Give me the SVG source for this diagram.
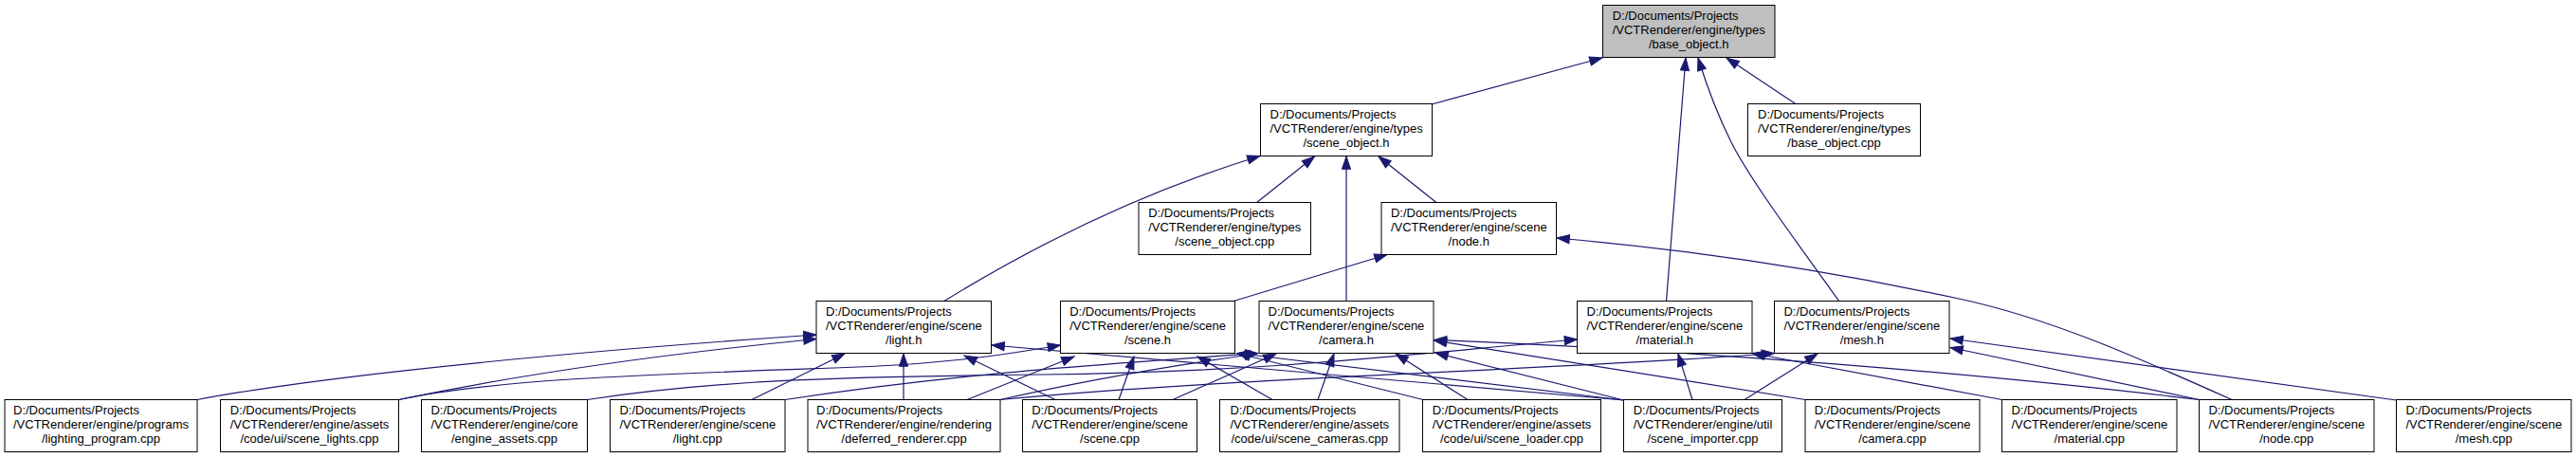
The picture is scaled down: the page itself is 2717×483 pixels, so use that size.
<svg xmlns="http://www.w3.org/2000/svg" width="2717" height="483" viewBox="0 0 2717 483">
<style>
.n rect{fill:#ffffff;stroke:#000000;stroke-width:1}
.n.root rect{fill:#bfbfbf}
.n text{font-family:"Liberation Sans",Arial,Helvetica,sans-serif;font-size:13px;fill:#000000}
.n text.c{text-anchor:middle}
.e path{fill:none;stroke:#191970;stroke-width:1.2;marker-end:url(#ah)}
</style>
<defs>
<marker id="ah" markerUnits="userSpaceOnUse" markerWidth="14" markerHeight="10" refX="13.3" refY="5" orient="auto" overflow="visible">
<path d="M0,0.4 L13.3,5 L0,9.6 Z" fill="#191970" stroke="#191970" stroke-width="1"/>
</marker>
</defs>
<rect width="2717" height="483" fill="#ffffff"/>
<g id="edges" class="e">
<path d="M1510,110 L1690,61"/>
<path d="M1757.5,318 L1778,61"/>
<path d="M1940,318 C1900,262 1846,190 1826,150 C1810,118 1800,90 1791,61"/>
<path d="M1894.5,110 L1821,61"/>
<path d="M1325,214 L1386.5,165"/>
<path d="M1420,318 L1420,165"/>
<path d="M1515.5,214 L1454,165"/>
<path d="M995,318 C1060,278 1180,210 1329,164.5"/>
<path d="M1299.5,318 L1463,268.5"/>
<path d="M2354,421.5 C2250,375 2160,335 2066,315 C1950,290 1800,265 1642,251"/>
<path d="M208,421.5 C300,404 500,378 861,353"/>
<path d="M420.5,421.5 C500,405 650,378 861,357.5"/>
<path d="M420.5,421.5 C520,400 680,395 880,388 C1000,384 1060,374 1118.5,364"/>
<path d="M619.5,421.5 C760,400 900,397 1100,395 C1350,392 1500,372 1663.5,358"/>
<path d="M793,421.5 L891,373"/>
<path d="M828,421.5 C1000,395 1150,385 1327,372.5"/>
<path d="M953,421.5 L953,373"/>
<path d="M1020,421.5 L1133,376"/>
<path d="M1055,421.5 C1150,400 1240,385 1326,373"/>
<path d="M1055,421.5 C1300,398 1650,390 1871.5,372.5"/>
<path d="M1113,421.5 L1017,375"/>
<path d="M1180,421.5 L1196,376"/>
<path d="M1237,421.5 L1346,373"/>
<path d="M1342,421.5 L1263,376"/>
<path d="M1390,421.5 L1407,373"/>
<path d="M1501,421.5 L1305,372.5"/>
<path d="M1548,421.5 L1472,373"/>
<path d="M1712.5,422 L1046,364"/>
<path d="M1712.5,422 L1305,372.5"/>
<path d="M1712.5,422 L1514,372"/>
<path d="M1785,421.5 L1770,373"/>
<path d="M1840,421.5 L1917,373"/>
<path d="M1904,421.5 L1512.5,359"/>
<path d="M2319.5,421.5 C2100,395 1800,370 1512.5,358.5"/>
<path d="M2111.5,421.5 L1848,372.5"/>
<path d="M2319.5,421.5 L2057,366.5"/>
<path d="M2527.5,422 L2057,357"/>
</g>
<g id="n_base_object_h" class="n root"><rect x="1690.5" y="5.5" width="181.5" height="55"/><text x="1700.7" y="21">D:/Documents/Projects</text><text x="1700.7" y="36">/VCTRenderer/engine/types</text><text class="c" x="1781.25" y="50.5">/base_object.h</text></g>
<g id="n_scene_object_h" class="n"><rect x="1329.5" y="109.5" width="181" height="55"/><text x="1339.5" y="125">D:/Documents/Projects</text><text x="1339.5" y="140">/VCTRenderer/engine/types</text><text class="c" x="1420" y="154.5">/scene_object.h</text></g>
<g id="n_base_object_cpp" class="n"><rect x="1843.5" y="109.5" width="182" height="55"/><text x="1854" y="125">D:/Documents/Projects</text><text x="1854" y="140">/VCTRenderer/engine/types</text><text class="c" x="1934.5" y="154.5">/base_object.cpp</text></g>
<g id="n_scene_object_cpp" class="n"><rect x="1201" y="213.5" width="181.5" height="55"/><text x="1211.2" y="229">D:/Documents/Projects</text><text x="1211.2" y="244">/VCTRenderer/engine/types</text><text class="c" x="1291.75" y="258.5">/scene_object.cpp</text></g>
<g id="n_node_h" class="n"><rect x="1457" y="213.5" width="184.5" height="55"/><text x="1466.9" y="229">D:/Documents/Projects</text><text x="1466.9" y="244">/VCTRenderer/engine/scene</text><text class="c" x="1549.25" y="258.5">/node.h</text></g>
<g id="n_light_h" class="n"><rect x="861" y="317.5" width="184.5" height="55"/><text x="870.9" y="333">D:/Documents/Projects</text><text x="870.9" y="348">/VCTRenderer/engine/scene</text><text class="c" x="953.25" y="362.5">/light.h</text></g>
<g id="n_scene_h" class="n"><rect x="1118.5" y="317.5" width="184" height="55"/><text x="1128.2" y="333">D:/Documents/Projects</text><text x="1128.2" y="348">/VCTRenderer/engine/scene</text><text class="c" x="1210.5" y="362.5">/scene.h</text></g>
<g id="n_camera_h" class="n"><rect x="1328" y="317.5" width="184" height="55"/><text x="1337.6" y="333">D:/Documents/Projects</text><text x="1337.6" y="348">/VCTRenderer/engine/scene</text><text class="c" x="1420" y="362.5">/camera.h</text></g>
<g id="n_material_h" class="n"><rect x="1663.5" y="317.5" width="184.5" height="55"/><text x="1673.4" y="333">D:/Documents/Projects</text><text x="1673.4" y="348">/VCTRenderer/engine/scene</text><text class="c" x="1755.75" y="362.5">/material.h</text></g>
<g id="n_mesh_h" class="n"><rect x="1871.5" y="317.5" width="184.5" height="55"/><text x="1881.4" y="333">D:/Documents/Projects</text><text x="1881.4" y="348">/VCTRenderer/engine/scene</text><text class="c" x="1963.75" y="362.5">/mesh.h</text></g>
<g id="n_lighting_program_cpp" class="n"><rect x="5" y="421.5" width="203" height="55"/><text x="14" y="437">D:/Documents/Projects</text><text x="14" y="452">/VCTRenderer/engine/programs</text><text class="c" x="106.5" y="466.5">/lighting_program.cpp</text></g>
<g id="n_scene_lights_cpp" class="n"><rect x="232.5" y="421.5" width="188" height="55"/><text x="242.7" y="437">D:/Documents/Projects</text><text x="242.7" y="452">/VCTRenderer/engine/assets</text><text class="c" x="326.5" y="466.5">/code/ui/scene_lights.cpp</text></g>
<g id="n_engine_assets_cpp" class="n"><rect x="444.5" y="421.5" width="175" height="55"/><text x="454.4" y="437">D:/Documents/Projects</text><text x="454.4" y="452">/VCTRenderer/engine/core</text><text class="c" x="532" y="466.5">/engine_assets.cpp</text></g>
<g id="n_light_cpp" class="n"><rect x="643.5" y="421.5" width="184.5" height="55"/><text x="653.4" y="437">D:/Documents/Projects</text><text x="653.4" y="452">/VCTRenderer/engine/scene</text><text class="c" x="735.75" y="466.5">/light.cpp</text></g>
<g id="n_deferred_renderer_cpp" class="n"><rect x="852" y="421.5" width="203" height="55"/><text x="861" y="437">D:/Documents/Projects</text><text x="861" y="452">/VCTRenderer/engine/rendering</text><text class="c" x="953.5" y="466.5">/deferred_renderer.cpp</text></g>
<g id="n_scene_cpp" class="n"><rect x="1078.5" y="421.5" width="184" height="55"/><text x="1088.2" y="437">D:/Documents/Projects</text><text x="1088.2" y="452">/VCTRenderer/engine/scene</text><text class="c" x="1170.5" y="466.5">/scene.cpp</text></g>
<g id="n_scene_cameras_cpp" class="n"><rect x="1286.5" y="421.5" width="189.5" height="55"/><text x="1297.4" y="437">D:/Documents/Projects</text><text x="1297.4" y="452">/VCTRenderer/engine/assets</text><text class="c" x="1381.25" y="466.5">/code/ui/scene_cameras.cpp</text></g>
<g id="n_scene_loader_cpp" class="n"><rect x="1500.5" y="421.5" width="188" height="55"/><text x="1510.7" y="437">D:/Documents/Projects</text><text x="1510.7" y="452">/VCTRenderer/engine/assets</text><text class="c" x="1594.5" y="466.5">/code/ui/scene_loader.cpp</text></g>
<g id="n_scene_importer_cpp" class="n"><rect x="1712.5" y="421.5" width="167" height="55"/><text x="1722.7" y="437">D:/Documents/Projects</text><text x="1722.7" y="452">/VCTRenderer/engine/util</text><text class="c" x="1796" y="466.5">/scene_importer.cpp</text></g>
<g id="n_camera_cpp" class="n"><rect x="1904" y="421.5" width="184" height="55"/><text x="1913.7" y="437">D:/Documents/Projects</text><text x="1913.7" y="452">/VCTRenderer/engine/scene</text><text class="c" x="1996" y="466.5">/camera.cpp</text></g>
<g id="n_material_cpp" class="n"><rect x="2111.5" y="421.5" width="184.5" height="55"/><text x="2121.4" y="437">D:/Documents/Projects</text><text x="2121.4" y="452">/VCTRenderer/engine/scene</text><text class="c" x="2203.75" y="466.5">/material.cpp</text></g>
<g id="n_node_cpp" class="n"><rect x="2319.5" y="421.5" width="184.5" height="55"/><text x="2329.4" y="437">D:/Documents/Projects</text><text x="2329.4" y="452">/VCTRenderer/engine/scene</text><text class="c" x="2411.75" y="466.5">/node.cpp</text></g>
<g id="n_mesh_cpp" class="n"><rect x="2527.5" y="421.5" width="184.5" height="55"/><text x="2537.4" y="437">D:/Documents/Projects</text><text x="2537.4" y="452">/VCTRenderer/engine/scene</text><text class="c" x="2619.75" y="466.5">/mesh.cpp</text></g>
</svg>
